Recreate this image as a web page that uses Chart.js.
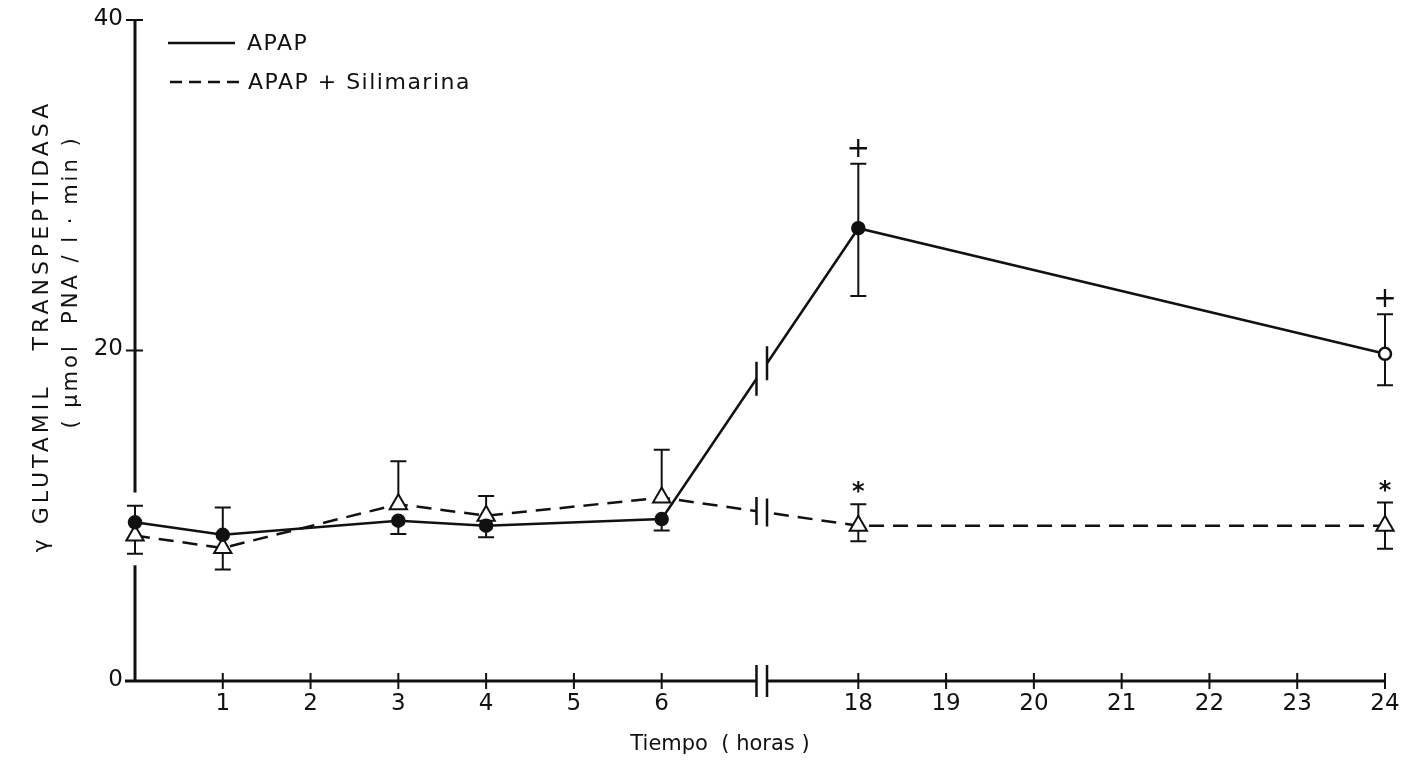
<!DOCTYPE html>
<html>
<head>
<meta charset="utf-8">
<title>Gamma glutamil transpeptidasa</title>
<script src="https://cdn.jsdelivr.net/npm/chart.js@4.4.1/dist/chart.umd.min.js"></script>
<style>
  body { margin: 0; background: #fff; }
  #wrap { width: 1405px; height: 761px; position: relative; }
</style>
</head>
<body>
<div id="wrap"><canvas id="ggt"></canvas></div>
<script>
// valores
const horas = [0, 1, 3, 4, 6, 18, 24];

const apap   = [9.6, 8.85, 9.7, 9.4, 9.8, 27.4, 19.8];
const apapHi = [10.6, 10.5, null, null, null, 31.3, 22.2];
const apapLo = [null, null, 8.9, 8.7, 9.1, 23.3, 17.9];
const apapSig = ['', '', '', '', '', '+', '+'];

const sil   = [8.8, 8.05, 10.7, 10.0, 11.1, 9.4, 9.4];
const silHi = [null, null, 13.3, 11.2, 14.0, 10.7, 10.8];
const silLo = [7.7, 6.75, null, null, null, 8.45, 8.0];
const silSig = ['', '', '', '', '', '*', '*'];

const xTicks = [1, 2, 3, 4, 5, 6, 18, 19, 20, 21, 22, 23, 24];
const yTicks = [0, 20, 40];

const FONT = "'DejaVu Sans', sans-serif";

// las horas 7..17 se cortan del eje
function pos(h) { return h <= 6 ? h : h - 18 + 8.24; }
const CORTE = 7.14;

function serie(vals) {
  return vals.map((v, i) => ({ x: pos(horas[i]), y: v }));
}

function barras(ctx, xs, ys, vals, hi, lo) {
  ctx.save();
  ctx.strokeStyle = '#111';
  ctx.lineWidth = 2;
  vals.forEach((v, i) => {
    const x = xs.getPixelForValue(pos(horas[i]));
    const y0 = ys.getPixelForValue(v);
    [hi[i], lo[i]].forEach(e => {
      if (e == null) return;
      const y1 = ys.getPixelForValue(e);
      ctx.beginPath();
      ctx.moveTo(x, y0); ctx.lineTo(x, y1);
      ctx.moveTo(x - 8, y1); ctx.lineTo(x + 8, y1);
      ctx.stroke();
    });
  });
  ctx.restore();
}

// dos rayas verticales y un hueco blanco entre ellas
function corte(ctx, xa, ya, xb, yb, alto) {
  ctx.save();
  ctx.strokeStyle = '#fff';
  ctx.lineWidth = 7;
  ctx.beginPath(); ctx.moveTo(xa, ya); ctx.lineTo(xb, yb); ctx.stroke();
  ctx.strokeStyle = '#111';
  ctx.lineWidth = 2.5;
  ctx.beginPath();
  ctx.moveTo(xa, ya - alto / 2); ctx.lineTo(xa, ya + alto / 2);
  ctx.moveTo(xb, yb - alto / 2); ctx.lineTo(xb, yb + alto / 2);
  ctx.stroke();
  ctx.restore();
}

function yEn(meta, i0, i1, x) {
  const p0 = meta.data[i0], p1 = meta.data[i1];
  return p0.y + (p1.y - p0.y) * (x - p0.x) / (p1.x - p0.x);
}

const dibujo = {
  id: 'dibujo',
  beforeDatasetsDraw(chart) {
    const ctx = chart.ctx;
    const xs = chart.scales.x, ys = chart.scales.y;
    const x0 = xs.getPixelForValue(0);
    const yBase = ys.getPixelForValue(0);
    const xa = xs.getPixelForValue(CORTE - 0.06);
    const xb = xs.getPixelForValue(CORTE + 0.06);

    ctx.save();
    ctx.strokeStyle = '#111';
    ctx.lineWidth = 3;
    // eje y, interrumpido donde estan las barras de la hora 0
    const gapTop = ys.getPixelForValue(Math.max(apapHi[0] || 0, silHi[0] || 0, apap[0], sil[0]) + 0.8);
    const gapBot = ys.getPixelForValue(Math.min(silLo[0] || 99, apapLo[0] || 99) - 0.7);
    ctx.beginPath();
    ctx.moveTo(x0, ys.getPixelForValue(40)); ctx.lineTo(x0, gapTop);
    ctx.moveTo(x0, gapBot); ctx.lineTo(x0, yBase);
    ctx.stroke();
    ctx.lineWidth = 2;
    ctx.beginPath();
    ctx.moveTo(x0 - 9, ys.getPixelForValue(40)); ctx.lineTo(x0 + 8, ys.getPixelForValue(40));
    ctx.moveTo(x0 - 9, ys.getPixelForValue(20)); ctx.lineTo(x0 + 8, ys.getPixelForValue(20));
    ctx.stroke();

    // eje x
    ctx.lineWidth = 3;
    ctx.beginPath();
    ctx.moveTo(x0 - 10, yBase); ctx.lineTo(xs.getPixelForValue(pos(24)), yBase);
    ctx.stroke();
    ctx.lineWidth = 2;
    ctx.beginPath();
    xTicks.forEach(h => {
      const x = xs.getPixelForValue(pos(h));
      ctx.moveTo(x, yBase - 8); ctx.lineTo(x, yBase + 8);
    });
    ctx.stroke();
    ctx.restore();
    corte(ctx, xa, yBase, xb, yBase, 32);

    // etiquetas
    ctx.save();
    ctx.fillStyle = '#111';
    ctx.font = '23px ' + FONT;
    ctx.textAlign = 'center';
    ctx.textBaseline = 'top';
    xTicks.forEach(h => ctx.fillText(String(h), xs.getPixelForValue(pos(h)), yBase + 12));
    ctx.textAlign = 'right';
    ctx.textBaseline = 'middle';
    yTicks.forEach(v => ctx.fillText(String(v), x0 - 12, ys.getPixelForValue(v) - 1));

    ctx.font = '21px ' + FONT;
    ctx.textAlign = 'center';
    ctx.fillText('Tiempo  ( horas )', 720, 745);

    ctx.save();
    ctx.translate(42, 326);
    ctx.rotate(-Math.PI / 2);
    ctx.letterSpacing = '4px';
    ctx.font = '22px ' + FONT;
    ctx.fillText('\u03B3 GLUTAMIL   TRANSPEPTIDASA', 0, 0);
    ctx.restore();
    ctx.save();
    ctx.translate(72, 282);
    ctx.rotate(-Math.PI / 2);
    ctx.letterSpacing = '3px';
    ctx.font = '21px ' + FONT;
    ctx.fillText('( \u03BCmol  PNA / l \u00B7 min )', 0, 0);
    ctx.restore();

    // leyenda
    ctx.letterSpacing = '1.5px';
    ctx.font = '22px ' + FONT;
    ctx.textAlign = 'left';
    ctx.strokeStyle = '#111';
    ctx.lineWidth = 2.5;
    ctx.beginPath(); ctx.moveTo(168, 43); ctx.lineTo(235, 43); ctx.stroke();
    ctx.fillText('APAP', 247, 44);
    ctx.setLineDash([12, 7]);
    ctx.beginPath(); ctx.moveTo(170, 82); ctx.lineTo(243, 82); ctx.stroke();
    ctx.setLineDash([]);
    ctx.fillText('APAP + Silimarina', 248, 83);
    ctx.restore();

    barras(ctx, xs, ys, apap, apapHi, apapLo);
    barras(ctx, xs, ys, sil, silHi, silLo);
  },
  afterDatasetsDraw(chart) {
    const ctx = chart.ctx;
    const xs = chart.scales.x, ys = chart.scales.y;
    const xa = xs.getPixelForValue(CORTE - 0.06);
    const xb = xs.getPixelForValue(CORTE + 0.06);
    const i6 = horas.indexOf(6), i18 = horas.indexOf(18);
    const mA = chart.getDatasetMeta(0), mS = chart.getDatasetMeta(1);
    corte(ctx, xa, yEn(mA, i6, i18, xa), xb, yEn(mA, i6, i18, xb), 34);
    corte(ctx, xa, yEn(mS, i6, i18, xa), xb, yEn(mS, i6, i18, xb), 28);

    ctx.save();
    ctx.fillStyle = '#111';
    ctx.textAlign = 'center';
    ctx.textBaseline = 'middle';
    ctx.font = '28px ' + FONT;
    apapSig.forEach((s, i) => {
      if (!s) return;
      ctx.fillText(s, xs.getPixelForValue(pos(horas[i])), ys.getPixelForValue(apapHi[i]) - 14);
    });
    ctx.font = 'bold 24px ' + FONT;
    silSig.forEach((s, i) => {
      if (!s) return;
      ctx.fillText(s, xs.getPixelForValue(pos(horas[i])), ys.getPixelForValue(silHi[i]) - 11);
    });
    ctx.restore();
  }
};

new Chart(document.getElementById('ggt'), {
  type: 'line',
  data: {
    datasets: [{
      label: 'APAP',
      data: serie(apap),
      borderColor: '#111',
      borderWidth: 2.5,
      pointRadius: 6,
      pointBorderWidth: 2.5,
      pointBackgroundColor: apap.map((v, i) => i === apap.length - 1 ? '#fff' : '#111'),
      pointBorderColor: '#111',
      tension: 0,
      clip: false
    }, {
      label: 'APAP + Silimarina',
      data: serie(sil),
      borderColor: '#111',
      borderWidth: 2.5,
      borderDash: [15, 9],
      pointStyle: 'triangle',
      pointRadius: 10,
      pointBorderWidth: 2,
      pointBackgroundColor: '#fff',
      pointBorderColor: '#111',
      tension: 0,
      clip: false
    }]
  },
  options: {
    responsive: true,
    maintainAspectRatio: false,
    animation: false,
    layout: { padding: { left: 135, right: 20, top: 20, bottom: 80 } },
    plugins: { legend: { display: false }, tooltip: { enabled: false } },
    scales: {
      x: { type: 'linear', min: 0, max: pos(24), display: false },
      y: { min: 0, max: 40, display: false }
    }
  },
  plugins: [dibujo]
});
</script>
</body>
</html>
